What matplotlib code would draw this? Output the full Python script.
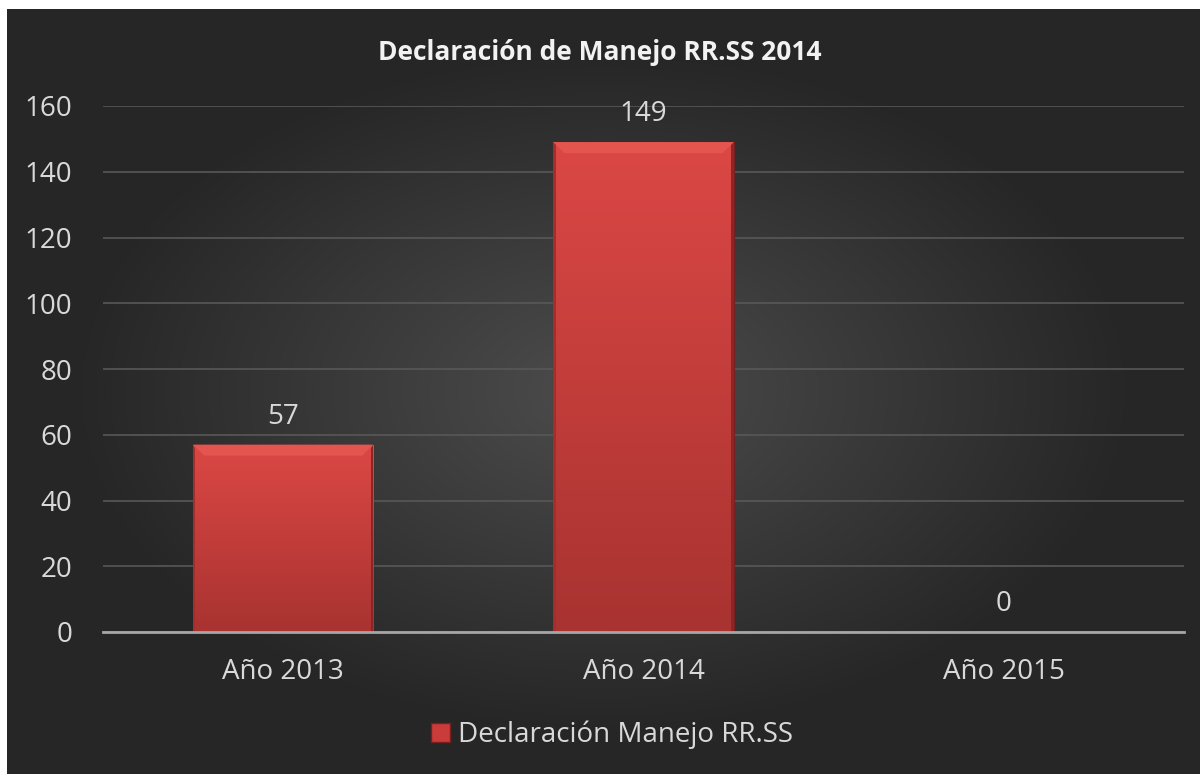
import numpy as np
import matplotlib
matplotlib.use("Agg")
import matplotlib.pyplot as plt
from matplotlib.patches import Polygon

# chart data
categories = ["Año 2013", "Año 2014", "Año 2015"]
values = [57, 149, 0]
series_name = "Declaración Manejo RR.SS"
title = "Declaración de Manejo RR.SS 2014"
yticks = [0, 20, 40, 60, 80, 100, 120, 140, 160]

plt.rcParams['font.family'] = ['Open Sans', 'DejaVu Sans']
txt = "#d9d9d9"

fig = plt.figure(figsize=(12, 7.74), dpi=100)
fig.patch.set_facecolor("white")

# dark radial background (left/top white margin like the original)
bg = fig.add_axes([7 / 1200, 0, 1193 / 1200, 765 / 774])
bg.set_axis_off()
yy, xx = np.mgrid[0:1:300j, 0:1:460j]
r = np.sqrt(((xx - 0.5) / 0.75) ** 2 + ((yy - 0.5) / 0.75) ** 2)
shade = np.clip(0.30 - 0.17 * r / r.max() * 1.4, 0.15, 0.30)
bg.imshow(np.dstack([shade] * 3), aspect="auto", extent=[0, 1, 0, 1],
          interpolation="bilinear")

ax = fig.add_axes([103 / 1200, 1 - 632 / 774, 1081 / 1200, 526 / 774])
ax.patch.set_alpha(0)
x = np.arange(len(categories))
bars = ax.bar(x, values, width=0.5, color="#c93c3a", edgecolor="#7a1f1f",
              linewidth=0.8, zorder=3)

# vertical gradient inside every bar
grad = np.linspace(0, 1, 100).reshape(-1, 1)
top = np.array([0.86, 0.28, 0.27])
bot = np.array([0.66, 0.20, 0.19])
img = top * (1 - grad[..., None]) + bot * grad[..., None]
img = np.repeat(img, 2, axis=1)
bx, by = 11 * 3 / 1081, 11 * 160 / 526   # bevel size (~11px) in data units
for b in bars:
    if b.get_height() <= 0:
        continue
    x0, x1, h = b.get_x(), b.get_x() + b.get_width(), b.get_height()
    im = ax.imshow(img, extent=[x0, x1, 0, h], aspect="auto", zorder=3.5,
                   interpolation="bilinear")
    im.set_clip_path(b)
    # light bevel on top, darker on the sides
    ax.add_patch(Polygon([[x0, h], [x1, h], [x1 - bx, h - by], [x0 + bx, h - by]],
                         facecolor="#e4554f", edgecolor="none", zorder=3.6))
    ax.add_patch(Polygon([[x1, h], [x1, 0], [x1 - 0.006, 0], [x1 - 0.006, h - by * 0.3]],
                         facecolor="#8c2626", edgecolor="none", zorder=3.6))
    ax.add_patch(Polygon([[x0, h], [x0, 0], [x0 + 0.006, 0], [x0 + 0.006, h - by * 0.3]],
                         facecolor="#a52d2c", edgecolor="none", zorder=3.6))

for xi, v in zip(x, values):
    ax.annotate(str(v), (xi, v), xytext=(0, 10), textcoords="offset points",
                ha="center", va="bottom", color=txt, fontsize=20)

ax.set_xlim(-0.5, 2.5)
ax.set_ylim(0, 160)
ax.set_yticks(yticks)
ax.set_xticks(x)
ax.set_xticklabels(categories)
ax.tick_params(axis="both", length=0, colors=txt, labelsize=20)
ax.tick_params(axis="x", pad=19)
ax.tick_params(axis="y", pad=22)
ax.grid(axis="y", color="#585858", linewidth=1.2, zorder=0)
for s in ["top", "right", "left"]:
    ax.spines[s].set_visible(False)
ax.spines["bottom"].set_color("#a6a6a6")
ax.spines["bottom"].set_linewidth(2)
ax.spines["bottom"].set_zorder(4)

fig.text(0.5, 1 - 52 / 774, title, ha="center", va="center", color="#f2f2f2",
         fontsize=19, fontweight="bold")

h = plt.Rectangle((0, 0), 1, 1, facecolor="#c93c3a", edgecolor="#7a1f1f")
fig.legend([h], [series_name], loc="center", bbox_to_anchor=(0.51, 1 - 735 / 774),
           frameon=False, fontsize=20, labelcolor=txt, handlelength=0.7,
           handleheight=0.7, handletextpad=0.3)

fig.savefig("out.png", dpi=100, facecolor=fig.get_facecolor())
